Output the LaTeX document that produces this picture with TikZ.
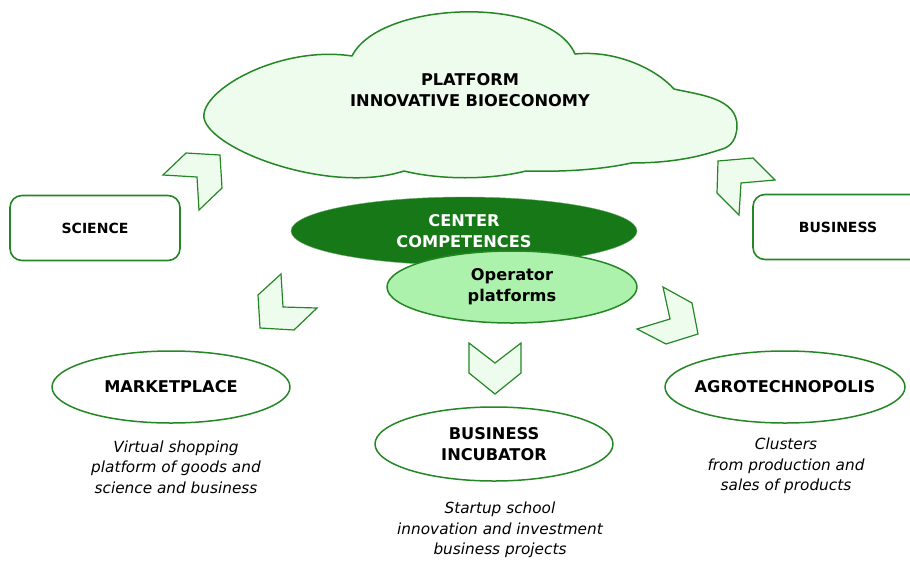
\documentclass[tikz,border=0pt]{standalone}
\usepackage{fontspec}
\setmainfont{DejaVu Sans}
\definecolor{leafline}{RGB}{36,134,36}
\definecolor{leafdark}{RGB}{22,120,22}
\definecolor{leafpale}{RGB}{238,252,238}
\definecolor{leaflight}{RGB}{172,242,172}
\tikzset{
  title/.style={font=\bfseries\fontsize{16.2}{21}\selectfont, align=center},
  sidebox/.style={draw=leafline, line width=1.6pt, rounded corners=12pt, minimum width=170pt, minimum height=65pt, font=\bfseries\fontsize{14}{17}\selectfont},
  note/.style={font=\itshape\fontsize{15.3}{20.5}\selectfont, align=center},
  chevron/.style={draw=leafline, line width=1.2pt, fill=leafpale, line join=miter},
  ovalline/.style={draw=leafline, line width=1.5pt},
}
\begin{document}
\begin{tikzpicture}[x=1pt, y=-1pt, line join=round]
	\useasboundingbox (0,0) rectangle (910,560);
	\path
	(470,90) coordinate (platform)
	(464,231) coordinate (center)
	(512,287) coordinate (operator)
	(171,387) coordinate (market)
	(494,444) coordinate (incub)
	(785,387) coordinate (agro)
	;
	% cloud
	\draw[ovalline, fill=leafpale]
	(204,118) .. controls (200,90) and (280,45) .. (352,56)
	.. controls (380,0) and (550,-5) .. (575,54)
	.. controls (615,50) and (655,68) .. (674,89)
	.. controls (700,95) and (738,98) .. (737,127)
	.. controls (736,143) and (728,148) .. (719,150)
	.. controls (690,160) and (660,163) .. (631,163)
	.. controls (600,170) and (560,172) .. (526,171)
	.. controls (490,180) and (440,180) .. (404,171)
	.. controls (330,195) and (210,150) .. cycle
	;
	% chevrons
	\draw[chevron]
	(163,175) -- (186,153) -- (220,155) -- (222,188) -- (199,210) -- (197,177) -- cycle
	(718,161) -- (753,158) -- (775,180) -- (741,183) -- (739,215) -- (717,193) -- cycle
	(281,274) -- (258,295) -- (260,328) -- (294,330) -- (317,308) -- (283,307) -- cycle
	(663,287) -- (692,303) -- (698,334) -- (666,344) -- (637,329) -- (670,319) -- cycle
	(469,343) -- (495,363) -- (521,343) -- (521,373) -- (495,394) -- (469,373) -- cycle
	;
	\node[sidebox] (science) at (95,228) {SCIENCE};
	\node[sidebox] (business) at (838,227) {BUSINESS};
	% centre
	\draw[draw=leafdark!60!white, fill=leafdark] (center) ellipse [x radius=173, y radius=34];
	\draw[ovalline, fill=leaflight] (operator) ellipse [x radius=125, y radius=36];
	\foreach \n/\rx/\ry in {market/119/36, incub/119/37, agro/120/36}
	\draw[ovalline] (\n) ellipse [x radius=\rx, y radius=\ry];
	\node[title] (platformtext) at (platform) {PLATFORM\\INNOVATIVE BIOECONOMY};
	\node[title, text=white] (centertext) at (center) {CENTER\\COMPETENCES};
	\node[title] (operatortext) at (operator) {Operator\\platforms};
	\node[title] (markettext) at (market) {MARKETPLACE};
	\node[title] (incubtext) at (incub) {BUSINESS\\INCUBATOR};
	\node[title] (agrotext) at (agro) {AGROTECHNOPOLIS};
	\node[note] (marketnote) at (176,467) {Virtual shopping\\platform of goods and\\science and business};
	\node[note] (incubnote) at (500,530) {Startup school\\innovation and investment\\business projects};
	\node[note] (agronote) at (786,466) {Clusters\\from production and\\sales of products};
\end{tikzpicture}
\end{document}
